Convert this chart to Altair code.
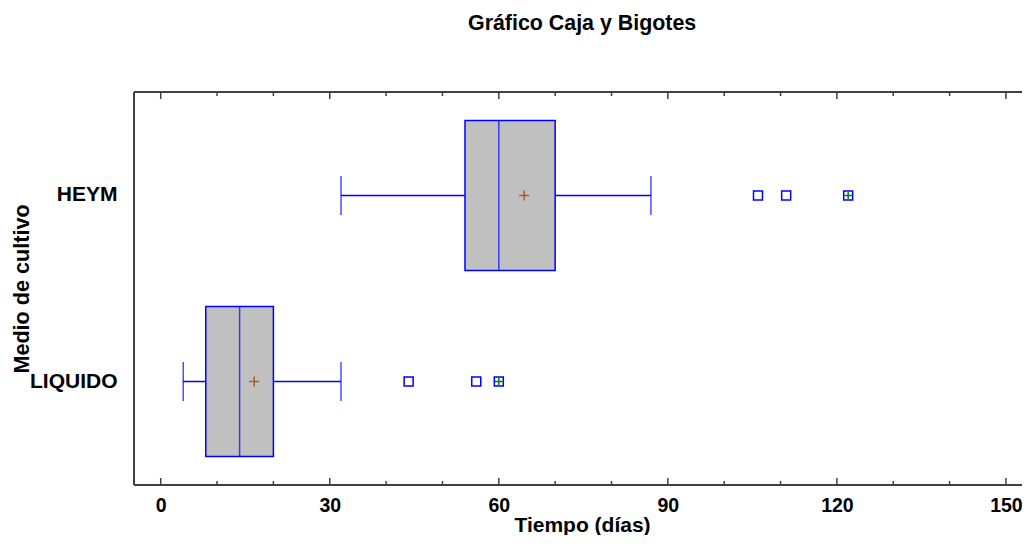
import altair as alt
import pandas as pd

# ---- data ----
medios = ["HEYM", "LIQUIDO"]
bigote_inf = [32, 4]
cuartil_1 = [54, 8]
mediana = [60, 14]
cuartil_3 = [70, 20]
bigote_sup = [87, 32]
media = [64.5, 16.6]

atipicos_medio = ["HEYM", "HEYM", "HEYM", "LIQUIDO", "LIQUIDO", "LIQUIDO"]
atipicos_valor = [106, 111, 122, 44, 56, 60]
lejanos_medio = ["HEYM", "LIQUIDO"]
lejanos_valor = [122, 60]

ticks_mayores = [0, 30, 60, 90, 120, 150]
ticks_menores = [10, 20, 40, 50, 70, 80, 100, 110, 130, 140]

# ---- tables ----
stats = pd.DataFrame({
    "medio": medios, "lo": bigote_inf, "q1": cuartil_1, "med": mediana,
    "q3": cuartil_3, "hi": bigote_sup, "mean": media,
})
outl = pd.DataFrame({"medio": atipicos_medio, "v": atipicos_valor})
far = pd.DataFrame({"medio": lejanos_medio, "v": lejanos_valor})
tmaj = pd.DataFrame({"v": ticks_mayores})
tmin = pd.DataFrame({"v": ticks_menores})

W, H = 888, 393
FONT = "Liberation Sans"
BLUE = "#0000ff"
FRAME = "#404040"

xscale = alt.Scale(domain=[-4.74, 152.85], nice=False, zero=False)
yscale = alt.Scale(domain=medios, paddingInner=0.1935, paddingOuter=0.153)

xaxis = alt.Axis(
    values=ticks_mayores, ticks=False, domain=False, grid=False,
    labelFont=FONT, labelFontSize=19.5, labelFontWeight="bold", labelColor="black",
    labelPadding=11, labelFlush=False,
    title="Tiempo (días)", titleFont=FONT, titleFontSize=21, titleFontWeight="bold",
    titleColor="black", titleX=448, titleY=46, titleAlign="center",
    titleBaseline="alphabetic",
)
yaxis = alt.Axis(
    ticks=False, domain=False, grid=False,
    labelFont=FONT, labelFontSize=21, labelFontWeight="bold", labelColor="black",
    labelPadding=17,
    title="Medio de cultivo", titleFont=FONT, titleFontSize=21.6, titleFontWeight="bold",
    titleColor="black", titleX=-112, titleY=H / 2, titleAngle=-90,
    titleAlign="center", titleBaseline="middle",
)

X = lambda f: alt.X(f, type="quantitative", scale=xscale, axis=xaxis)
Y = alt.Y("medio:N", scale=yscale, axis=yaxis)

base = alt.Chart(stats)

box = base.mark_bar(fill="#c0c0c0", stroke=BLUE, strokeWidth=1.5).encode(
    x=X("q1"), x2="q3", y=Y)
median_line = base.mark_tick(color=BLUE, size=150, thickness=1.5).encode(x=X("med"), y=Y)
whisk_lo = base.mark_rule(color=BLUE, strokeWidth=1.5).encode(x=X("lo"), x2="q1", y=Y)
whisk_hi = base.mark_rule(color=BLUE, strokeWidth=1.5).encode(x=X("q3"), x2="hi", y=Y)
cap_lo = base.mark_tick(color=BLUE, size=39, thickness=1.5).encode(x=X("lo"), y=Y)
cap_hi = base.mark_tick(color=BLUE, size=39, thickness=1.5).encode(x=X("hi"), y=Y)

PLUS = "M-1,0L1,0M0,-1L0,1"
mean_pt = base.mark_point(shape=PLUS, size=100, color="#a85a2a", filled=False,
                          strokeWidth=1.5, opacity=1).encode(x=X("mean"), y=Y)

out_pts = alt.Chart(outl).mark_point(shape="square", size=81, color=BLUE, filled=False,
                                     strokeWidth=1.5, opacity=1).encode(x=X("v"), y=Y)
far_pts = alt.Chart(far).mark_point(shape=PLUS, size=64, color="#008000", filled=False,
                                    strokeWidth=1.5, opacity=1).encode(x=X("v"), y=Y)

# inward ticks (bottom and top) and frame
tk = dict(color=FRAME, strokeWidth=1.5)
maj_b = alt.Chart(tmaj).mark_rule(**tk).encode(x=X("v"), y=alt.value(H), y2=alt.value(H - 7))
maj_t = alt.Chart(tmaj).mark_rule(**tk).encode(x=X("v"), y=alt.value(0), y2=alt.value(7))
min_b = alt.Chart(tmin).mark_rule(**tk).encode(x=X("v"), y=alt.value(H), y2=alt.value(H - 4))
min_t = alt.Chart(tmin).mark_rule(**tk).encode(x=X("v"), y=alt.value(0), y2=alt.value(4))

fr = dict(color=FRAME, strokeWidth=2)
frame_top = alt.Chart(tmaj).mark_rule(**fr).encode(x=alt.value(0), x2=alt.value(W + 10), y=alt.value(0))
frame_bot = alt.Chart(tmaj).mark_rule(**fr).encode(x=alt.value(0), x2=alt.value(W + 10), y=alt.value(H))
frame_left = alt.Chart(tmaj).mark_rule(**fr).encode(x=alt.value(0), y=alt.value(0), y2=alt.value(H))

chart = alt.layer(
    box, whisk_lo, whisk_hi, cap_lo, cap_hi, median_line, mean_pt, out_pts, far_pts,
    maj_b, maj_t, min_b, min_t, frame_top, frame_bot, frame_left,
).properties(
    width=W, height=H,
    title=alt.TitleParams("Gráfico Caja y Bigotes", font=FONT, fontSize=21.4,
                          fontWeight="bold", color="black", anchor="start",
                          frame="group", baseline="alphabetic", offset=40,
                          dx=334),
    autosize=alt.AutoSizeParams(type="none"),
    padding={"left": 126, "top": 84, "right": 0, "bottom": 50},
    background="white",
).configure_view(strokeWidth=0, strokeOpacity=0)

chart.save("out.html", embed_options={"renderer": "svg", "actions": False})
